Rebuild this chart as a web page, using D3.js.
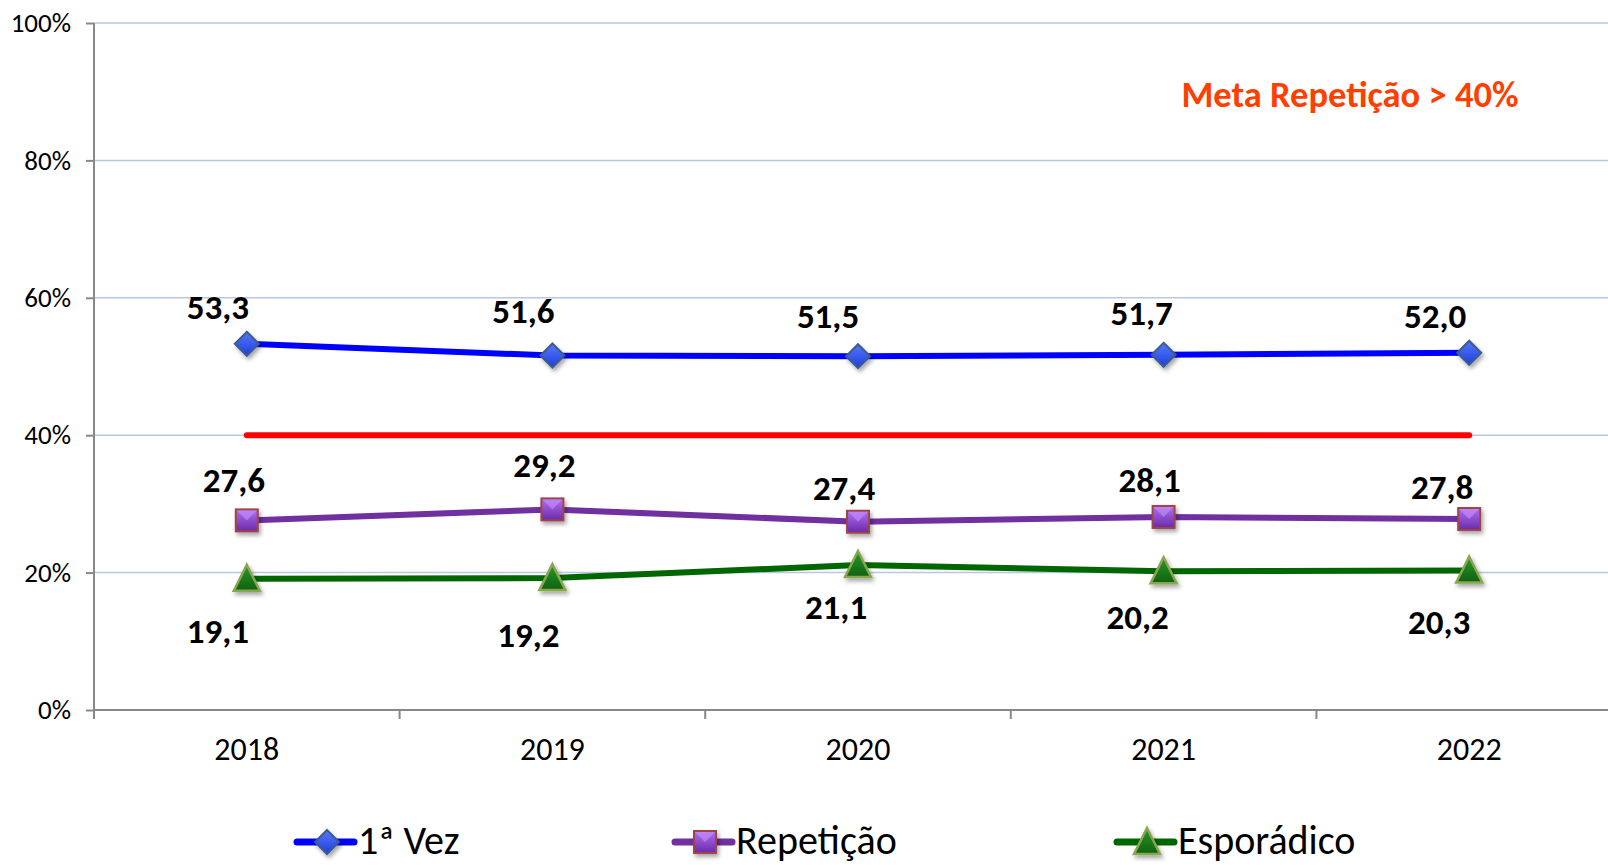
<!DOCTYPE html>
<html><head><meta charset="utf-8">
<script src="https://cdn.jsdelivr.net/npm/d3@7"></script>
<style>
html,body{margin:0;padding:0;background:#fff;overflow:hidden}
svg{display:block;font-family:Carlito,Lato,"Liberation Sans",sans-serif}
</style></head><body>
<svg id="chart" width="1608" height="865"></svg>
<script>
// ---- data ----
const years = ["2018","2019","2020","2021","2022"];
const primeiraVez = [53.3, 51.6, 51.5, 51.7, 52.0];
const repeticao   = [27.6, 29.2, 27.4, 28.1, 27.8];
const esporadico  = [19.1, 19.2, 21.1, 20.2, 20.3];
const meta = 40;
const yTicks = [0, 20, 40, 60, 80, 100];
const seriesNames = ["1ª Vez", "Repetição", "Esporádico"];
const metaLabel = "Meta Repetição > 40%";

// ---- layout (label offsets in px, not data) ----
const labelOffsets = [
  [[-29,-37],[-29,-45],[-30,-41],[-22,-42],[-34,-37]],
  [[-13,-41],[-8,-45],[-14,-34],[-14,-38],[-27,-33]],
  [[-29,52],[-24,56],[-22,41],[-26,45],[-30,51]]
];

(function(){
const FONT = 'Carlito, Lato, "Liberation Sans", sans-serif';
const svg = d3.select("#chart");
const mLeft = 94, mTop = 23, mBottom = 710, band = 305.6;
const x = d3.scaleBand().domain(years).range([mLeft, mLeft + band*years.length]).padding(0);
const y = d3.scaleLinear().domain([0,100]).range([mBottom, mTop]);
const cx = d => x(d) + x.bandwidth()/2;

const defs = svg.append("defs");
const f = defs.append("filter").attr("id","shadow").attr("x","-50%").attr("y","-50%").attr("width","200%").attr("height","200%");
f.append("feDropShadow").attr("dx",2).attr("dy",3).attr("stdDeviation",2).attr("flood-color","#000").attr("flood-opacity",0.35);
function grad(id, c1, c2){
  const g = defs.append("linearGradient").attr("id",id).attr("x1","0").attr("y1","0").attr("x2","0").attr("y2","1");
  g.append("stop").attr("offset","0%").attr("stop-color",c1);
  g.append("stop").attr("offset","100%").attr("stop-color",c2);
}
grad("gBlue","#5577ff","#1f3fd8");
grad("gPurple","#b070f0","#6a2aa8");
grad("gGreen","#2a9a2a","#0f6010");

// gridlines
svg.append("g").selectAll("line").data(yTicks.filter(t=>t>0)).join("line")
  .attr("x1",mLeft).attr("x2",1608).attr("y1",d=>y(d)).attr("y2",d=>y(d))
  .attr("stroke","#b8c8e0").attr("stroke-width",1.5);

// y axis
const yAxis = svg.append("g").attr("transform",`translate(${mLeft},0)`)
  .call(d3.axisLeft(y).tickValues(yTicks).tickFormat(d=>d+"%").tickSize(8).tickPadding(15));
yAxis.attr("font-family",FONT).attr("font-size",27);
yAxis.select(".domain").remove();
yAxis.selectAll(".tick line").attr("stroke","#888").attr("stroke-width",2);
yAxis.selectAll(".tick text").attr("fill","#000");
svg.append("line").attr("x1",mLeft).attr("x2",mLeft).attr("y1",mTop).attr("y2",mBottom+9)
  .attr("stroke","#888").attr("stroke-width",2);

// x axis
svg.append("line").attr("x1",mLeft).attr("x2",1608).attr("y1",mBottom).attr("y2",mBottom)
  .attr("stroke","#888").attr("stroke-width",2);
const xAxis = svg.append("g").attr("transform",`translate(0,${mBottom})`)
  .call(d3.axisBottom(x).tickSize(0).tickPadding(27));
xAxis.attr("font-family",FONT).attr("font-size",32);
xAxis.select(".domain").remove();
xAxis.selectAll(".tick text").attr("fill","#000");
svg.append("g").selectAll("line").data(years).join("line")
  .attr("x1",d=>x(d)).attr("x2",d=>x(d)).attr("y1",mBottom).attr("y2",mBottom+9)
  .attr("stroke","#888").attr("stroke-width",2);

// meta line
svg.append("line").attr("x1",cx(years[0])).attr("x2",cx(years[years.length-1]))
  .attr("y1",y(meta)).attr("y2",y(meta)).attr("stroke","#ff0000").attr("stroke-width",6).attr("stroke-linecap","round");

const series = [
  {name:seriesNames[0], values:primeiraVez, color:"#0000ff", marker:"diamond", fill:"url(#gBlue)", stroke:"#3b5c8c"},
  {name:seriesNames[1], values:repeticao, color:"#7030a0", marker:"square", fill:"url(#gPurple)", stroke:"#a04545"},
  {name:seriesNames[2], values:esporadico, color:"#006600", marker:"triangle", fill:"url(#gGreen)", stroke:"#8aa650"}
];

function drawMarker(g, type, fill, stroke){
  if(type==="diamond"){
    g.append("path").attr("d","M0,-12L12,0L0,12L-12,0Z").attr("fill",fill).attr("stroke",stroke).attr("stroke-width",2);
  } else if(type==="square"){
    g.append("rect").attr("x",-11).attr("y",-11).attr("width",22).attr("height",22).attr("fill",fill).attr("stroke",stroke).attr("stroke-width",2);
    g.append("path").attr("d","M-10,-10L0,0L10,-10Z").attr("fill","#c890ff").attr("opacity",0.6);
  } else {
    g.append("path").attr("d","M0,-14L13,12L-13,12Z").attr("fill",fill).attr("stroke",stroke).attr("stroke-width",2.5);
  }
}

const line = d3.line().x((d,i)=>cx(years[i])).y(d=>y(d));
series.forEach((s)=>{
  svg.append("path").datum(s.values).attr("d",line).attr("fill","none")
    .attr("stroke",s.color).attr("stroke-width",6).attr("stroke-linejoin","round");
});
series.forEach((s)=>{
  s.values.forEach((v,i)=>{
    const g = svg.append("g").attr("transform",`translate(${cx(years[i])},${y(v)})`).attr("filter","url(#shadow)");
    drawMarker(g, s.marker, s.fill, s.stroke);
  });
});
series.forEach((s,si)=>{
  svg.append("g").selectAll("text").data(s.values).join("text")
    .attr("x",(d,i)=>cx(years[i])+labelOffsets[si][i][0])
    .attr("y",(d,i)=>y(d)+labelOffsets[si][i][1])
    .attr("dy","0.36em").attr("text-anchor","middle")
    .attr("font-size",35).attr("font-weight","bold").attr("fill","#000")
    .text(d=>d3.format(".1f")(d).replace(".",","));
});

// meta text
svg.append("text").attr("x",1350).attr("y",107).attr("text-anchor","middle")
  .attr("font-size",36.5).attr("font-weight","bold").attr("fill","#ff3f00").text(metaLabel);

// legend
const legendX = [297, 675, 1117];
series.forEach((s,si)=>{
  const g = svg.append("g").attr("transform",`translate(${legendX[si]},842)`);
  g.append("line").attr("x1",0).attr("x2",57).attr("y1",0).attr("y2",0)
    .attr("stroke",s.color).attr("stroke-width",7).attr("stroke-linecap","round");
  const m = g.append("g").attr("transform","translate(30,0)").attr("filter","url(#shadow)");
  drawMarker(m, s.marker, s.fill, s.stroke);
  g.append("text").attr("x",61).attr("y",-2).attr("dy","0.36em").attr("font-size",40).attr("fill","#000").text(s.name);
});
})();
</script>
</body></html>
